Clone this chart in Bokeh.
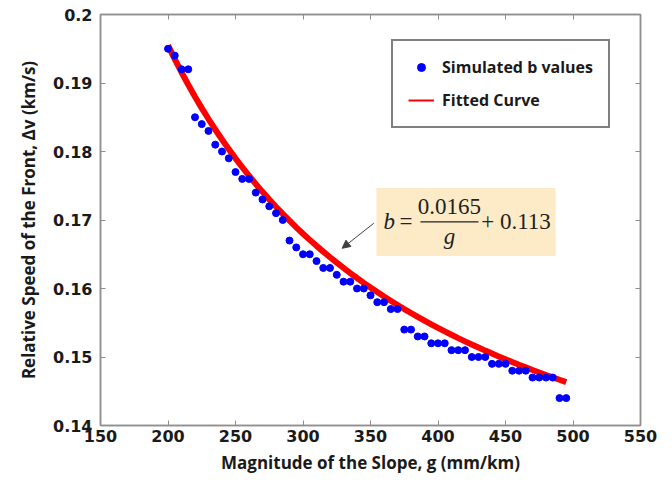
from bokeh.plotting import figure
from bokeh.models import (ColumnDataSource, Legend, LegendItem, LinearAxis, FixedTicker,
                          Label, BoxAnnotation, Arrow, NormalHead, Range1d,
                          CustomLabelingPolicy)
from bokeh.embed import file_html
from bokeh.resources import INLINE

# ---- data ----
g_values = [200, 205, 210, 215, 220, 225, 230, 235, 240, 245,
            250, 255, 260, 265, 270, 275, 280, 285, 290, 295,
            300, 305, 310, 315, 320, 325, 330, 335, 340, 345,
            350, 355, 360, 365, 370, 375, 380, 385, 390, 395,
            400, 405, 410, 415, 420, 425, 430, 435, 440, 445,
            450, 455, 460, 465, 470, 475, 480, 485, 490, 495]
b_values = [0.195, 0.194, 0.192, 0.192, 0.185, 0.184, 0.183, 0.181, 0.180, 0.179,
            0.177, 0.176, 0.176, 0.174, 0.173, 0.172, 0.171, 0.170, 0.167, 0.166,
            0.165, 0.165, 0.164, 0.163, 0.163, 0.162, 0.161, 0.161, 0.160, 0.160,
            0.159, 0.158, 0.158, 0.157, 0.157, 0.154, 0.154, 0.153, 0.153, 0.152,
            0.152, 0.152, 0.151, 0.151, 0.151, 0.150, 0.150, 0.150, 0.149, 0.149,
            0.149, 0.148, 0.148, 0.148, 0.147, 0.147, 0.147, 0.147, 0.144, 0.144]

# fitted curve stated in the chart: b = 0.0165 / g + 0.113 (g in m/km)
fit_a = 0.0165
fit_c = 0.113
fit_values = [fit_a / (g / 1000.0) + fit_c for g in g_values]

x_ticks = [150, 200, 250, 300, 350, 400, 450, 500, 550]
x_tick_labels = ["150", "200", "250", "300", "350", "400", "450", "500", "550"]
y_ticks = [0.14, 0.15, 0.16, 0.17, 0.18, 0.19, 0.2]
y_tick_labels = ["0.14", "0.15", "0.16", "0.17", "0.18", "0.19", "0.2"]

x_label = "Magnitude of the Slope, g (mm/km)"
y_label = "Relative Speed of the Front, \u0394v (km/s)"
legend_labels = ["Simulated b values", "Fitted Curve"]

src = ColumnDataSource(dict(g=g_values, b=b_values, fit=fit_values))

AXIS_COLOR = "#8f8f8f"
TEXT_COLOR = "#1a1a1a"

p = figure(frame_width=540, frame_height=411,
           x_range=Range1d(150, 550), y_range=Range1d(0.14, 0.2),
           output_backend="svg", toolbar_location=None,
           min_border_left=100, min_border_right=24,
           min_border_top=14, min_border_bottom=56)
p.grid.visible = False
p.outline_line_color = AXIS_COLOR
p.outline_line_width = 1.5

def style_axis(ax, ticks, labels, show_labels=True):
    ax.ticker = FixedTicker(ticks=ticks)
    ax.major_tick_in = 5
    ax.major_tick_out = 0
    ax.minor_tick_line_color = None
    ax.axis_line_color = AXIS_COLOR
    ax.axis_line_width = 1.5
    ax.major_tick_line_color = AXIS_COLOR
    ax.major_tick_line_width = 1
    if show_labels:
        ax.major_label_overrides = dict(zip(ticks, labels))
        ax.major_label_text_font = "DejaVu Sans"
        ax.major_label_text_font_style = "bold"
        ax.major_label_text_font_size = "16px"
        ax.major_label_text_color = TEXT_COLOR
    else:
        ax.major_label_standoff = 0
        ax.major_label_policy = CustomLabelingPolicy(code="""
            const all = [...indices]
            for (const i of all) { indices.unset(i) }
            return indices
        """)

style_axis(p.xaxis[0], x_ticks, x_tick_labels)
style_axis(p.yaxis[0], y_ticks, y_tick_labels)
p.xaxis.major_label_standoff = 4
p.yaxis.major_label_standoff = 8

for ax, lab, st in ((p.xaxis[0], x_label, 6), (p.yaxis[0], y_label, 10)):
    ax.axis_label = lab
    ax.axis_label_text_font = "Open Sans"
    ax.axis_label_text_font_style = "bold"
    ax.axis_label_text_font_size = "17px"
    ax.axis_label_text_color = TEXT_COLOR
    ax.axis_label_standoff = st

top_ax = LinearAxis()
style_axis(top_ax, x_ticks, x_tick_labels, show_labels=False)
p.add_layout(top_ax, "above")
right_ax = LinearAxis()
style_axis(right_ax, y_ticks, y_tick_labels, show_labels=False)
p.add_layout(right_ax, "right")

# ---- data marks ----
curve = p.line("g", "fit", source=src, line_color="#ff0000", line_width=6)
dots = p.scatter("g", "b", source=src, size=7, fill_color="#0000ff", line_color="#0000ff")

# legend proxies (thin line / small dot like the reference legend)
leg_dot = p.scatter("g", "b", source=src, size=5, fill_color="#0000ff",
                    line_color="#0000ff", visible=False)
leg_line = p.line("g", "fit", source=src, line_color="#ff0000", line_width=2, visible=False)

legend = Legend(items=[LegendItem(label=legend_labels[0], renderers=[leg_dot]),
                       LegendItem(label=legend_labels[1], renderers=[leg_line])],
                location=(291, 297), border_line_color="black", border_line_width=2,
                background_fill_color="white", background_fill_alpha=1,
                label_text_font="Open Sans", label_text_font_style="bold",
                label_text_font_size="16px", label_text_color=TEXT_COLOR,
                glyph_width=26, glyph_height=20, label_height=20,
                label_standoff=8, spacing=11, padding=15, margin=0)
p.add_layout(legend)

# ---- equation annotation ----
p.add_layout(BoxAnnotation(left=354.4, right=487.0, bottom=0.16474, top=0.17467,
                           fill_color="#fcebc6", fill_alpha=1, line_alpha=0))
p.add_layout(BoxAnnotation(left=387.0, right=430.0, bottom=0.16965, top=0.16980,
                           fill_color="#222222", fill_alpha=1, line_alpha=0))
eq_font = "Liberation Serif"
eq_size = "23px"
p.add_layout(Label(x=359.6, y=0.16971, text="b", text_font=eq_font, text_font_style="italic",
                   text_font_size=eq_size, text_baseline="middle", text_align="left",
                   text_color="#222222"))
p.add_layout(Label(x=376.3, y=0.16971, text="=", text_font=eq_font,
                   text_font_size=eq_size, text_baseline="middle", text_align="center",
                   text_color="#222222"))
p.add_layout(Label(x=408.5, y=0.17190, text="0.0165", text_font=eq_font,
                   text_font_size=eq_size, text_baseline="middle", text_align="center",
                   text_color="#222222"))
p.add_layout(Label(x=408.5, y=0.16755, text="g", text_font=eq_font, text_font_style="italic",
                   text_font_size=eq_size, text_baseline="middle", text_align="center",
                   text_color="#222222"))
p.add_layout(Label(x=432.0, y=0.16971, text="+ 0.113", text_font=eq_font,
                   text_font_size=eq_size, text_baseline="middle", text_align="left",
                   text_color="#222222"))
p.add_layout(Arrow(end=NormalHead(size=8, fill_color="#404040", line_color="#404040"),
                   x_start=352.4, y_start=0.16952, x_end=329.0, y_end=0.16587,
                   line_color="#404040", line_width=1))

open("out.html", "w").write(file_html(p, INLINE))
